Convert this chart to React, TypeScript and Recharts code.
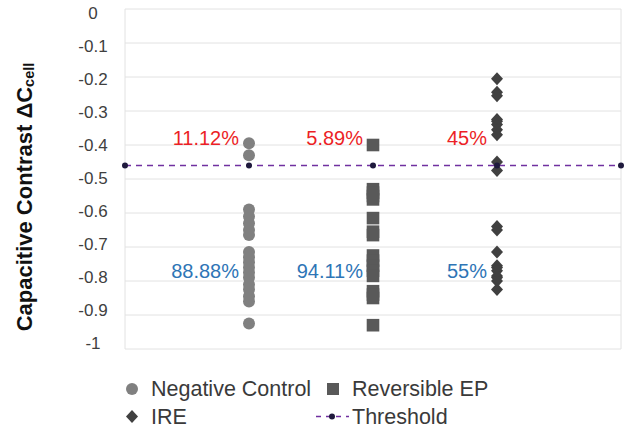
import React from 'react';
import { ScatterChart, Scatter, XAxis, YAxis, CartesianGrid } from 'recharts';

// values
const categories = ['Negative Control', 'Reversible EP', 'IRE'];

const negativeControl = [
  -0.395, -0.43, -0.59, -0.61, -0.63, -0.65, -0.665, -0.715, -0.73, -0.745, -0.76, -0.775,
  -0.79, -0.81, -0.825, -0.845, -0.86, -0.925,
];
const reversibleEP = [
  -0.4, -0.53, -0.54, -0.55, -0.56, -0.615, -0.655, -0.665, -0.725, -0.74, -0.755, -0.77,
  -0.785, -0.83, -0.84, -0.85, -0.93,
];
const ire = [
  -0.205, -0.245, -0.255, -0.325, -0.33, -0.34, -0.355, -0.37, -0.45, -0.475, -0.64, -0.65,
  -0.715, -0.755, -0.76, -0.77, -0.785, -0.79, -0.8, -0.825,
];

const thresholdValue = -0.46;
const thresholdX = [0, 1, 2, 3, 4];
const xTicks = [0, 1, 2, 3, 4];
const yTicks = [0, -0.1, -0.2, -0.3, -0.4, -0.5, -0.6, -0.7, -0.8, -0.9, -1];

const abovePct = ['11.12%', '5.89%', '45%'];
const belowPct = ['88.88%', '94.11%', '55%'];
const aboveLabelY = -0.378;
const belowLabelY = -0.77;

const FONT = '"Liberation Sans", Arial, sans-serif';
const RED = '#EC1F26';
const BLUE = '#2E75B6';
const PURPLE = '#7030A0';

const ncData = negativeControl.map((y) => ({ x: 1, y }));
const epData = reversibleEP.map((y) => ({ x: 2, y }));
const ireData = ire.map((y) => ({ x: 3, y }));
const thresholdData = thresholdX.map((x) => ({ x, y: thresholdValue }));
const aboveData = abovePct.map((text, i) => ({ x: i + 1, y: aboveLabelY, text }));
const belowData = belowPct.map((text, i) => ({ x: i + 1, y: belowLabelY, text }));

const CircleShape = (p: any) => <circle cx={p.cx} cy={p.cy} r={6} fill="#808080" />;
const SquareShape = (p: any) => (
  <rect x={p.cx - 6.3} y={p.cy - 6.3} width={12.6} height={12.6} fill="#595959" />
);
const DiamondShape = (p: any) => (
  <polygon
    points={`${p.cx},${p.cy - 6.5} ${p.cx + 6},${p.cy} ${p.cx},${p.cy + 6.5} ${p.cx - 6},${p.cy}`}
    fill="#404040"
  />
);
const ThresholdDot = (p: any) => <circle cx={p.cx} cy={p.cy} r={3} fill="#1F1A3D" />;

const pctLabel = (color: string) => (p: any) => (
  <text
    x={p.cx - 10}
    y={p.cy}
    textAnchor="end"
    dominantBaseline="central"
    fontSize={20}
    fontFamily={FONT}
    fill={color}
  >
    {p.payload.text}
  </text>
);

// the source's tick labels sit on a slightly tighter pitch than its gridlines
const YTick = (p: any) => {
  const v = p.payload.value;
  return (
    <text
      x={p.x}
      y={p.y + 4.4 + 10 * v}
      textAnchor="middle"
      dominantBaseline="central"
      fontSize={17}
      fontFamily={FONT}
      fill="#404040"
    >
      {String(v)}
    </text>
  );
};

const YTitle = (props: any) => {
  const vb = props.viewBox || {};
  const cx = 24;
  const cy = (vb.y || 0) + (vb.height || 0) / 2 + 18;
  return (
    <text
      x={cx}
      y={cy}
      transform={`rotate(-90, ${cx}, ${cy})`}
      textAnchor="middle"
      dominantBaseline="central"
      fontSize={22}
      fontWeight="bold"
      fontFamily={FONT}
      fill="#111"
    >
      Capacitive Contrast ΔC
      <tspan fontSize={14.5} dy={5}>
        cell
      </tspan>
    </text>
  );
};

const legendText: React.CSSProperties = {
  position: 'absolute',
  fontSize: 21.5,
  fontFamily: FONT,
  color: '#3A3A3A',
  lineHeight: '24px',
  whiteSpace: 'nowrap',
};

export default function App() {
  return (
    <div
      style={{
        position: 'absolute',
        left: 0,
        top: 0,
        width: 626,
        height: 428,
        background: '#fff',
        fontFamily: FONT,
      }}
    >
      <ScatterChart width={626} height={360} margin={{ top: 9, right: 5, bottom: 11, left: 0 }}>
        <CartesianGrid stroke="#E2E2E2" strokeWidth={1} />
        <XAxis
          type="number"
          dataKey="x"
          domain={[0, 4]}
          ticks={xTicks}
          tick={false}
          axisLine={false}
          tickLine={false}
          height={0}
        />
        <YAxis
          type="number"
          dataKey="y"
          domain={[-1, 0]}
          ticks={yTicks}
          interval={0}
          axisLine={false}
          tickLine={false}
          tickSize={0}
          tickMargin={32}
          width={125}
          tick={YTick}
          label={{ content: YTitle }}
        />
        <Scatter name={categories[0]} data={ncData} shape={CircleShape} isAnimationActive={false} />
        <Scatter name={categories[1]} data={epData} shape={SquareShape} isAnimationActive={false} />
        <Scatter name={categories[2]} data={ireData} shape={DiamondShape} isAnimationActive={false} />
        <Scatter
          name="Threshold"
          data={thresholdData}
          shape={ThresholdDot}
          line={{ stroke: PURPLE, strokeWidth: 1.5, strokeDasharray: '6 5' }}
          isAnimationActive={false}
        />
        <Scatter data={aboveData} shape={pctLabel(RED)} isAnimationActive={false} />
        <Scatter data={belowData} shape={pctLabel(BLUE)} isAnimationActive={false} />
      </ScatterChart>

      {/* legend, two rows */}
      <svg style={{ position: 'absolute', left: 0, top: 360 }} width={626} height={68}>
        <circle cx={132} cy={29} r={6} fill="#808080" />
        <rect x={327} y={23} width={12} height={12} fill="#595959" />
        <polygon points="132,50 138,56.5 132,63 126,56.5" fill="#404040" />
        <line x1={316} y1={56.5} x2={349} y2={56.5} stroke={PURPLE} strokeWidth={1.5} strokeDasharray="5 5" />
        <circle cx={332} cy={56.5} r={3} fill="#1F1A3D" />
      </svg>
      <div style={{ ...legendText, left: 151, top: 377 }}>{categories[0]}</div>
      <div style={{ ...legendText, left: 352, top: 377 }}>{categories[1]}</div>
      <div style={{ ...legendText, left: 151, top: 405 }}>{categories[2]}</div>
      <div style={{ ...legendText, left: 352, top: 405 }}>Threshold</div>
    </div>
  );
}
